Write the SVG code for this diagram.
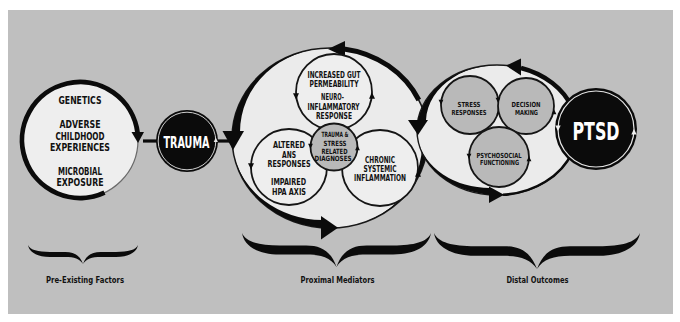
<svg xmlns="http://www.w3.org/2000/svg" width="680" height="322" viewBox="0 0 680 322">
<defs>
<style>
.t{font-family:'DejaVu Sans Condensed','DejaVu Sans','Liberation Sans',sans-serif;font-weight:bold;font-stretch:condensed;text-anchor:middle;fill:#111}
.wt{fill:#fff}
.lt{fill:#ebebeb;stroke:#1a1a1a;stroke-width:1.5}
.gr{fill:#b9b9b9;stroke:#151515;stroke-width:1.8}
.sc{fill:#eeeeee;stroke:#151515;stroke-width:1.8}
.k{fill:#0b0b0b}
.th{fill:none;stroke:#0b0b0b}
.ring{fill:none;stroke:#e6e6e6;stroke-width:1.2}
</style>
<path id="sa" d="M-3,-2.8 L3,-2.8 L0,3.4 Z"/>
<path id="br" d="M0,0 C2,8 9,11 20,11 L34,11 C42,11 47,16 50,30 C53,16 58,11 66,11 L80,11 C91,11 98,8 100,0 C99,11 92,19 80,19 L66,19 C58,19 53,22 50,30 C47,22 42,19 34,19 L20,19 C8,19 1,11 0,0 Z"/>
</defs>

<rect x="8" y="10" width="665" height="304" fill="#bfbfbf"/>

<g id="connectors">
<path d="M143,141 H157" class="th" stroke-width="3.2"/>
<path d="M217,141 H234" class="th" stroke-width="3.2"/>
</g>

<g id="pre-existing">
<circle cx="80" cy="140" r="58" fill="#eeeeee" stroke="#6a6a6a" stroke-width="1.2"/>
<path d="M104.5,192.6 A58 58 0 1 1 137.6,133" class="th" stroke-width="4.8"/>
<polygon points="131.5,132 144,132 138,143" class="k"/>
<text class="t" x="80" y="104" font-size="10.5" textLength="43" lengthAdjust="spacingAndGlyphs">GENETICS</text>
<text class="t" x="80" y="128" font-size="10.5" textLength="41" lengthAdjust="spacingAndGlyphs">ADVERSE</text>
<text class="t" x="80" y="140" font-size="10.5" textLength="49" lengthAdjust="spacingAndGlyphs">CHILDHOOD</text>
<text class="t" x="80" y="151" font-size="10.5" textLength="60" lengthAdjust="spacingAndGlyphs">EXPERIENCES</text>
<text class="t" x="80" y="175" font-size="10.5" textLength="44" lengthAdjust="spacingAndGlyphs">MICROBIAL</text>
<text class="t" x="80" y="186" font-size="10.5" textLength="47" lengthAdjust="spacingAndGlyphs">EXPOSURE</text>
</g>

<g id="trauma">
<circle cx="187" cy="141" r="31" class="k"/>
<circle cx="187" cy="141" r="28.8" fill="none" stroke="#cfcfcf" stroke-width="1"/>
<use href="#sa" transform="translate(215.8,140) rotate(180) scale(0.7)" fill="#e6e6e6"/>
<text class="t wt" x="186.5" y="148" font-size="15.5" textLength="46" lengthAdjust="spacingAndGlyphs">TRAUMA</text>
</g>

<g id="proximal-mediators">
<ellipse cx="330" cy="138" rx="98" ry="90" class="lt"/>
<path d="M344,48.9 A98 90 0 0 1 418.8,100" class="th" stroke-width="5"/>
<polygon points="328,49 345,41 345,57" class="k"/>
<path d="M329,48 A98 90 0 0 0 232.2,132 L240,132 A90 84 0 0 1 329,48 Z" class="k"/>
<polygon points="222.5,131 244,131 233,150" class="k"/>
<path d="M233.5,153.6 A98 90 0 0 0 322,227.7 L322,220 A91 82 0 0 1 233.5,153.6 Z" class="k"/>
<polygon points="321,216 321,239.5 338,227.7" class="k"/>
<path d="M337,227.7 A98 90 0 0 0 427.6,130.2 L420.6,130.2 A91 83 0 0 1 337,227.7 Z" class="k"/>

<g id="gut">
<circle cx="334" cy="92" r="38" class="sc"/>
<use href="#sa" transform="translate(296,96)" class="k"/>
<use href="#sa" transform="translate(372,96) rotate(180)" class="k"/>
<text class="t" x="334" y="78" font-size="8.3" textLength="53" lengthAdjust="spacingAndGlyphs">INCREASED GUT</text>
<text class="t" x="334" y="87.3" font-size="8.3" textLength="49" lengthAdjust="spacingAndGlyphs">PERMEABILITY</text>
<text class="t" x="332.5" y="100.3" font-size="8.3" textLength="23" lengthAdjust="spacingAndGlyphs">NEURO-</text>
<text class="t" x="333.5" y="109.7" font-size="8.3" textLength="52" lengthAdjust="spacingAndGlyphs">INFLAMMATORY</text>
<text class="t" x="334" y="119" font-size="8.3" textLength="36" lengthAdjust="spacingAndGlyphs">RESPONSE</text>
</g>
<g id="ans">
<circle cx="289" cy="167" r="38" class="sc"/>
<use href="#sa" transform="translate(251,166)" class="k"/>
<text class="t" x="289" y="148.3" font-size="9" textLength="32" lengthAdjust="spacingAndGlyphs">ALTERED</text>
<text class="t" x="289" y="157.5" font-size="9" textLength="14" lengthAdjust="spacingAndGlyphs">ANS</text>
<text class="t" x="289" y="167" font-size="9" textLength="43" lengthAdjust="spacingAndGlyphs">RESPONSES</text>
<text class="t" x="288.5" y="185" font-size="9" textLength="35" lengthAdjust="spacingAndGlyphs">IMPAIRED</text>
<text class="t" x="289" y="194.5" font-size="9" textLength="34" lengthAdjust="spacingAndGlyphs">HPA AXIS</text>
</g>
<g id="chronic">
<circle cx="380" cy="168" r="38" class="sc"/>
<use href="#sa" transform="translate(418,174) rotate(180)" class="k"/>
<text class="t" x="380" y="162.5" font-size="9" textLength="30" lengthAdjust="spacingAndGlyphs">CHRONIC</text>
<text class="t" x="380" y="171.5" font-size="9" textLength="33" lengthAdjust="spacingAndGlyphs">SYSTEMIC</text>
<text class="t" x="380" y="180.5" font-size="9" textLength="52" lengthAdjust="spacingAndGlyphs">INFLAMMATION</text>
</g>
<g id="diagnoses">
<circle cx="334" cy="147" r="23.5" class="gr"/>
<use href="#sa" transform="translate(310.5,146) scale(0.8)" class="k"/>
<use href="#sa" transform="translate(357.5,148) rotate(180) scale(0.8)" class="k"/>
<text class="t" x="335" y="137" font-size="7.2" textLength="27" lengthAdjust="spacingAndGlyphs">TRAUMA &amp;</text>
<text class="t" x="335" y="145.5" font-size="7.2" textLength="23" lengthAdjust="spacingAndGlyphs">STRESS</text>
<text class="t" x="334.5" y="153.5" font-size="7.2" textLength="26" lengthAdjust="spacingAndGlyphs">RELATED</text>
<text class="t" x="333" y="161.3" font-size="7.2" textLength="37" lengthAdjust="spacingAndGlyphs">DIAGNOSES</text>
</g>
</g>

<g id="distal-outcomes">
<ellipse cx="497" cy="130" rx="80" ry="65" class="lt"/>
<path d="M572.2,107.8 A80 65 0 0 0 521,68" class="th" stroke-width="4.5"/>
<polygon points="506,65.6 521,58.5 521,75.5" class="k"/>
<path d="M512,66.2 A80 65 0 0 0 418,120 L426,120 A72 57 0 0 1 512,66.2 Z" class="k"/>
<polygon points="408,120 428,120 418,135" class="k"/>
<path d="M418,140 A80 65 0 0 0 490,194.7 L490,188 A73 58 0 0 1 418,140 Z" class="k"/>
<polygon points="489,186.5 489,203 504,194.8" class="k"/>
<path d="M503,194.8 A80 65 0 0 0 572.2,152.2" class="th" stroke-width="2.5"/>

<g id="stress">
<circle cx="470" cy="105" r="29" class="gr"/>
<use href="#sa" transform="translate(441,102) scale(0.8)" class="k"/>
<use href="#sa" transform="translate(499,112) rotate(180) scale(0.8)" class="k"/>
<text class="t" x="469" y="106.5" font-size="7" textLength="23" lengthAdjust="spacingAndGlyphs">STRESS</text>
<text class="t" x="469" y="115" font-size="7" textLength="35" lengthAdjust="spacingAndGlyphs">RESPONSES</text>
</g>
<g id="decision">
<circle cx="526" cy="106" r="28" class="gr"/>
<use href="#sa" transform="translate(498,100) scale(0.8)" class="k"/>
<use href="#sa" transform="translate(554,112) rotate(180) scale(0.8)" class="k"/>
<text class="t" x="526" y="106.5" font-size="7" textLength="29" lengthAdjust="spacingAndGlyphs">DECISION</text>
<text class="t" x="526.5" y="115" font-size="7" textLength="23" lengthAdjust="spacingAndGlyphs">MAKING</text>
</g>
<g id="psychosocial">
<circle cx="499" cy="157" r="30" class="gr"/>
<use href="#sa" transform="translate(469,156) scale(0.8)" class="k"/>
<use href="#sa" transform="translate(529,159) rotate(180) scale(0.8)" class="k"/>
<text class="t" x="499" y="157.5" font-size="7" textLength="45" lengthAdjust="spacingAndGlyphs">PSYCHOSOCIAL</text>
<text class="t" x="499.5" y="165" font-size="7" textLength="39" lengthAdjust="spacingAndGlyphs">FUNCTIONING</text>
</g>
</g>

<g id="ptsd">
<circle cx="596" cy="129" r="41" class="k"/>
<circle cx="596" cy="129" r="38" class="ring"/>
<use href="#sa" transform="translate(558,128) scale(0.9)" fill="#f0f0f0"/>
<use href="#sa" transform="translate(634,132) rotate(180) scale(0.9)" fill="#f0f0f0"/>
<text class="t wt" x="596" y="140" font-size="24" textLength="47" lengthAdjust="spacingAndGlyphs">PTSD</text>
</g>

<g id="braces">
<use href="#br" transform="translate(28,245) scale(1.1,0.63)" class="k"/>
<use href="#br" transform="translate(242,233) scale(1.89,1.13)" class="k"/>
<use href="#br" transform="translate(434,233) scale(2.06,1.2)" class="k"/>
<text class="t" x="85" y="282.5" font-size="9.5" textLength="78" lengthAdjust="spacingAndGlyphs">Pre-Existing Factors</text>
<text class="t" x="337.5" y="282.5" font-size="9.5" textLength="74" lengthAdjust="spacingAndGlyphs">Proximal Mediators</text>
<text class="t" x="537.5" y="282.5" font-size="9.5" textLength="62" lengthAdjust="spacingAndGlyphs">Distal Outcomes</text>
</g>
</svg>
